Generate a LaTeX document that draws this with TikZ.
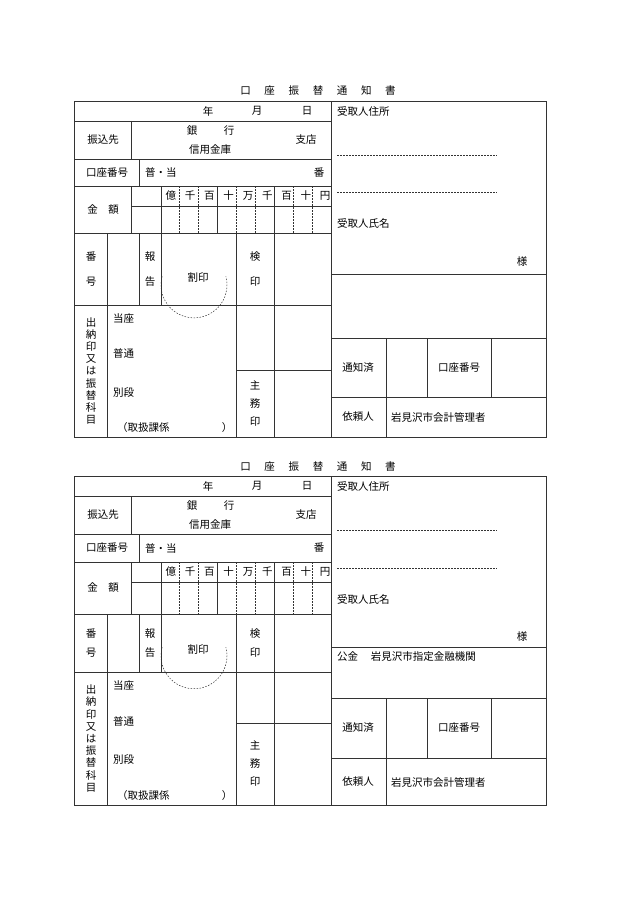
\documentclass[tikz,border=0pt]{standalone}
\usepackage{fontspec}
\setmainfont{Noto Sans CJK JP}
\usetikzlibrary{calc}

\tikzset{
  formline/.style={draw=black!80, line width=0.6pt},
  dotline/.style={draw=black!80, line width=0.5pt, dash pattern=on 1.5pt off 1.5pt},
  txt/.style={inner sep=0pt, font=\fontsize{10.5}{12}\selectfont},
  vtxt/.style={txt, align=center, font=\fontsize{10.5}{12.2}\selectfont},
}

% left half of one form: #1 top, #2..#8 row lines, #9 bottom
\newcommand\leftpart[9]{
  % frame and rows
  \draw[formline] (74,#1) rectangle (331,#9);
  \draw[formline] (74,#2) -- (331,#2);
  \draw[formline] (74,#3) -- (331,#3);
  \draw[formline] (74,#4) -- (331,#4);
  \draw[formline] (131,#5) -- (331,#5);
  \draw[formline] (74,#6) -- (331,#6);
  \draw[formline] (74,#7) -- (331,#7);
  \draw[formline] (236,#8) -- (331,#8);
  \draw[formline] (131,#2) -- (131,#3);
  \draw[formline] (139,#3) -- (139,#4);
  \draw[formline] (131,#4) -- (131,#6);
  \foreach \xx in {161,217,274} \draw[formline] (\xx,#4) -- (\xx,#6);
  \foreach \xx in {179,198,236,255,293,312} \draw[dotline] (\xx,#4) -- (\xx,#6);
  \foreach \xx in {107,139,161} \draw[formline] (\xx,#6) -- (\xx,#7);
  \draw[formline] (107,#7) -- (107,#9);
  \draw[formline] (236,#6) -- (236,#9);
  \draw[formline] (274,#6) -- (274,#9);
  % texts
  \node[txt] (nen) at (208,{(#1+#2)/2}) {年};
  \node[txt] (tsuki) at (257,{(#1+#2)/2}) {月};
  \node[txt] (hi) at (307,{(#1+#2)/2}) {日};
  \node[txt] (furikomi) at (103,{(#2+#3)/2}) {振込先};
  \node[txt] (gin) at (192,{#2+(#3-#2)*0.25}) {銀};
  \node[txt] (kou) at (229,{#2+(#3-#2)*0.25}) {行};
  \node[txt] (shinyo) at (210,{#2+(#3-#2)*0.75}) {信用金庫};
  \node[txt] (shiten) at (306,{(#2+#3)/2}) {支店};
  \node[txt] (kozano) at (107,{(#3+#4)/2}) {口座番号};
  \node[txt, anchor=west] (futsu) at (145,{(#3+#4)/2}) {普・当};
  \node[txt] (ban) at (319,{(#3+#4)/2}) {番};
  \foreach \dg [count=\i] in {億,千,百,十,万,千,百,十,円}
    \node[txt] (dg\i) at ({151.5+19.3*\i},{(#4+#5)/2}) {\dg};
  \node[txt] (kingaku) at (103,{(#4+#6)/2}) {金\hspace{1em}額};
  \node[txt] (bango1) at (91,{#6+(#7-#6)*0.33}) {番};
  \node[txt] (bango2) at (91,{#6+(#7-#6)*0.67}) {号};
  \node[txt] (hokoku1) at (150,{#6+(#7-#6)*0.33}) {報};
  \node[txt] (hokoku2) at (150,{#6+(#7-#6)*0.67}) {告};
  \draw[dotline] ($(194,{#6+(#7-#6)*0.72})+(195:33)$) arc[start angle=195, end angle=-15, radius=33];
  \node[txt] (wariin) at (198,{#6+(#7-#6)*0.62}) {割印};
  \node[txt] (ken1) at (255,{#6+(#7-#6)*0.33}) {検};
  \node[txt] (ken2) at (255,{#6+(#7-#6)*0.67}) {印};
  \node[vtxt] (suitou) at (91,{(#7+#9)/2}) {出\\納\\印\\又\\は\\振\\替\\科\\目};
  \node[txt, anchor=west] (toza) at (113,{#7+(#9-#7)*0.1}) {当座};
  \node[txt, anchor=west] (futsuu) at (113,{#7+(#9-#7)*0.37}) {普通};
  \node[txt, anchor=west] (betsu) at (113,{#7+(#9-#7)*0.66}) {別段};
  \node[txt, anchor=west] (toriatsu) at (117,{#7+(#9-#7)*0.93}) {（取扱課係};
  \node[txt] (kakko) at (227,{#7+(#9-#7)*0.93}) {）};
  \node[vtxt, font=\fontsize{10.5}{18}\selectfont] (shumu) at (255,{(#8+#9)/2}) {主\\務\\印};
}

\begin{document}
\begin{tikzpicture}[x=1pt,y=-1pt]
\useasboundingbox[fill=white] (0,0) rectangle (630,915);

% first form
\node[txt] (title1) at (318,91) {口\hspace{1.3em}座\hspace{1.3em}振\hspace{1.3em}替\hspace{1.3em}通\hspace{1.3em}知\hspace{1.3em}書};
\leftpart{101}{121}{159}{186}{206}{233}{305}{370}{437}
\draw[formline] (331,101) rectangle (546,437);
\draw[formline] (331,274) -- (546,274);
\draw[formline] (331,338) -- (546,338);
\draw[formline] (331,397) -- (546,397);
\draw[formline] (386,338) -- (386,437);
\draw[formline] (427,338) -- (427,397);
\draw[formline] (491,338) -- (491,397);
\draw[dotline] (337,155) -- (497,155);
\draw[dotline] (337,192) -- (497,192);
\node[txt, anchor=west] (jusho1) at (337,111) {受取人住所};
\node[txt, anchor=west] (shimei1) at (337,224) {受取人氏名};
\node[txt] (sama1) at (522,262) {様};
\node[txt] (tsuchi1) at (358,368) {通知済};
\node[txt] (kozab1) at (459,368) {口座番号};
\node[txt] (irai1) at (358,417) {依頼人};
\node[txt, anchor=west] (kanri1) at (391,417) {岩見沢市会計管理者};

% second form
\node[txt] (title2) at (318,467) {口\hspace{1.3em}座\hspace{1.3em}振\hspace{1.3em}替\hspace{1.3em}通\hspace{1.3em}知\hspace{1.3em}書};
\leftpart{476}{496}{534}{562}{582}{614}{672}{723}{805}
\draw[formline] (331,476) rectangle (546,805);
\draw[formline] (331,647) -- (546,647);
\draw[formline] (331,698) -- (546,698);
\draw[formline] (331,758) -- (546,758);
\draw[formline] (386,698) -- (386,805);
\draw[formline] (427,698) -- (427,758);
\draw[formline] (491,698) -- (491,758);
\draw[dotline] (337,530) -- (497,530);
\draw[dotline] (337,568) -- (497,568);
\node[txt, anchor=west] (jusho2) at (337,486) {受取人住所};
\node[txt, anchor=west] (shimei2) at (337,599) {受取人氏名};
\node[txt] (sama2) at (522,637) {様};
\node[txt, anchor=west] (kokin2) at (337,657) {公金\hspace{1.2em}岩見沢市指定金融機関};
\node[txt] (tsuchi2) at (358,728) {通知済};
\node[txt] (kozab2) at (459,728) {口座番号};
\node[txt] (irai2) at (358,782) {依頼人};
\node[txt, anchor=west] (kanri2) at (391,782) {岩見沢市会計管理者};
\end{tikzpicture}
\end{document}
